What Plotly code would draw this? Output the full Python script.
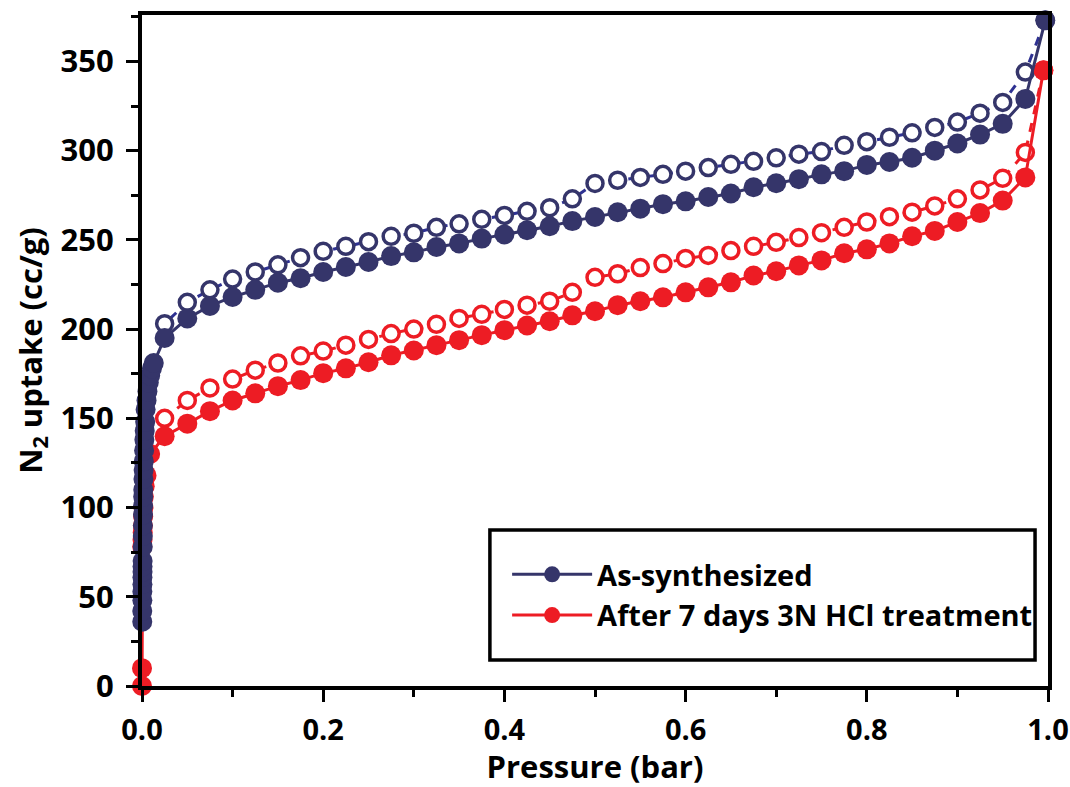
import plotly.graph_objects as go

# ---------------- data ----------------
# As-synthesized, adsorption branch (filled markers)
as_ads_p = [0.0003, 0.0003, 0.0004, 0.0004, 0.0005, 0.0005, 0.0006, 0.0006, 0.0007, 0.0008, 0.0009, 0.001,
            0.0011, 0.0012, 0.0013, 0.0014, 0.0016, 0.0018, 0.002, 0.0023, 0.0026, 0.003, 0.0035, 0.004,
            0.005, 0.006, 0.0075, 0.009, 0.011, 0.013,
            0.025, 0.05, 0.075, 0.1, 0.125, 0.15, 0.175, 0.2, 0.225, 0.25, 0.275, 0.3, 0.325, 0.35, 0.375,
            0.4, 0.425, 0.45, 0.475, 0.5, 0.525, 0.55, 0.575, 0.6, 0.625, 0.65, 0.675, 0.7, 0.725, 0.75,
            0.775, 0.8, 0.825, 0.85, 0.875, 0.9, 0.925, 0.95, 0.975, 0.997]
as_ads_v = [36, 42, 48, 53, 57, 61, 64, 67, 70, 78, 84, 90,
            96, 101, 106, 110, 116, 121, 126, 132, 138, 143, 148, 155,
            160, 165, 170, 174, 178, 181,
            195, 206, 213, 218, 222, 226, 228.5, 232, 234.8, 237.6, 240.9, 243, 246, 248, 250.7,
            253, 255.4, 257.6, 260.5, 262.8, 265.5, 267.5, 270, 271.6, 274, 276, 279.5, 281.7, 284, 286.7,
            288.5, 292, 293.6, 296, 300, 304, 309, 315, 329, 373]

# As-synthesized, desorption branch (open markers)
as_des_p = [0.997, 0.975, 0.95, 0.925, 0.9, 0.875, 0.85, 0.825, 0.8, 0.775, 0.75, 0.725, 0.7, 0.675, 0.65,
            0.625, 0.6, 0.575, 0.55, 0.525, 0.5, 0.475, 0.45, 0.425, 0.4, 0.375, 0.35, 0.325, 0.3, 0.275,
            0.25, 0.225, 0.2, 0.175, 0.15, 0.125, 0.1, 0.075, 0.05, 0.025]
as_des_v = [373, 344, 327, 321, 316, 313, 310, 307.5, 305, 303, 299.5, 298, 296, 294, 292.3,
            290.5, 288.5, 286.7, 285, 283.4, 281.6, 273, 268, 266, 263.7, 261.5, 259, 257, 253.7, 252,
            249, 246.4, 243.6, 240, 236, 232, 228, 222, 215, 203]

# After 7 days 3N HCl treatment, adsorption branch (filled markers)
hcl_ads_p = [0.0, 0.0, 0.0003, 0.0006, 0.0008, 0.001, 0.0013, 0.0016, 0.002, 0.003, 0.005, 0.009,
             0.025, 0.05, 0.075, 0.1, 0.125, 0.15, 0.175, 0.2, 0.225, 0.25, 0.275, 0.3, 0.325, 0.35, 0.375,
             0.4, 0.425, 0.45, 0.475, 0.5, 0.525, 0.55, 0.575, 0.6, 0.625, 0.65, 0.675, 0.7, 0.725, 0.75,
             0.775, 0.8, 0.825, 0.85, 0.875, 0.9, 0.925, 0.95, 0.975, 0.995]
hcl_ads_v = [0, 10, 78, 82, 86, 90, 95, 100, 106, 112, 118, 130,
             140, 147, 154, 160, 164, 168, 171.4, 175.3, 178, 181.4, 185.3, 188, 191, 193.8, 196.6,
             199.4, 202, 204.4, 207.7, 210, 213.4, 215.6, 217.8, 220.6, 223.4, 226.2, 230, 232.4, 235.7, 238.5,
             242.5, 244.7, 248, 252, 255, 260, 265, 272, 285, 345]

# After 7 days 3N HCl treatment, desorption branch (open markers)
hcl_des_p = [0.995, 0.975, 0.95, 0.925, 0.9, 0.875, 0.85, 0.825, 0.8, 0.775, 0.75, 0.725, 0.7, 0.675, 0.65,
             0.625, 0.6, 0.575, 0.55, 0.525, 0.5, 0.475, 0.45, 0.425, 0.4, 0.375, 0.35, 0.325, 0.3, 0.275,
             0.25, 0.225, 0.2, 0.175, 0.15, 0.125, 0.1, 0.075, 0.05, 0.025]
hcl_des_v = [345, 299, 284.5, 278, 273, 269, 265.5, 263, 260, 257, 254, 251.3, 248.6, 246.4, 244,
             241.3, 239.6, 236.7, 234.5, 231, 229, 220.6, 215.6, 213.4, 211, 208.3, 206, 202.7, 200, 197.5,
             194.2, 191, 187.7, 185, 181, 177, 172, 167, 160, 150]

# ---------------- style ----------------
BLUE = "#35356a"
BLUE_LINE = "#2e3192"
RED = "#ed1c24"
FONT = "Open Sans"

fig = go.Figure()
fig.add_trace(go.Scatter(x=hcl_des_p, y=hcl_des_v, mode="lines+markers", showlegend=False,
                         line=dict(color=RED, width=3, dash="dash"),
                         marker=dict(symbol="circle", size=16, color="white", line=dict(color=RED, width=3.5)),
                         cliponaxis=False))
fig.add_trace(go.Scatter(x=as_des_p, y=as_des_v, mode="lines+markers", showlegend=False,
                         line=dict(color=BLUE_LINE, width=3, dash="dash"),
                         marker=dict(symbol="circle", size=16, color="white", line=dict(color=BLUE, width=3.5)),
                         cliponaxis=False))
fig.add_trace(go.Scatter(x=hcl_ads_p, y=hcl_ads_v, mode="lines+markers", name="After 7 days 3N HCl treatment",
                         legendrank=2,
                         line=dict(color=RED, width=3),
                         marker=dict(symbol="circle", size=20, color=RED),
                         cliponaxis=False))
fig.add_trace(go.Scatter(x=as_ads_p, y=as_ads_v, mode="lines+markers", name="As-synthesized",
                         legendrank=1,
                         line=dict(color=BLUE, width=3),
                         marker=dict(symbol="circle", size=20, color=BLUE),
                         cliponaxis=False))

axis_common = dict(showline=True, linecolor="black", linewidth=4, mirror=True, ticks="outside",
                   tickwidth=3, ticklen=12, tickcolor="black", showgrid=False, zeroline=False,
                   automargin=False)

fig.update_xaxes(range=[0, 1.0], dtick=0.2, tickformat=".1f",
                 ticklabelstandoff=3, ticklabeloverflow="allow",
                 tickfont=dict(family=FONT, size=29, color="black", weight="bold"),
                 minor=dict(dtick=0.1, ticks="outside", ticklen=7, tickwidth=3, tickcolor="black"),
                 title=dict(text="Pressure (bar)", font=dict(family=FONT, size=31, color="black", weight="bold"),
                            standoff=4),
                 **axis_common)
fig.update_yaxes(range=[0, 376], dtick=50,
                 ticklabelstandoff=6,
                 tickfont=dict(family=FONT, size=31, color="black", weight="bold"),
                 minor=dict(dtick=25, ticks="outside", ticklen=7, tickwidth=3, tickcolor="black"),
                 title=dict(text="N<sub>2</sub> uptake (cc/g)",
                            font=dict(family=FONT, size=31, color="black", weight="bold"), standoff=10),
                 **axis_common)

# legend frame
fig.add_shape(type="rect", xref="paper", yref="paper", x0=0.384, x1=0.9857, y0=0.0387, y1=0.2325,
              line=dict(color="black", width=3.5), fillcolor="white", layer="above")

fig.update_layout(
    width=1070, height=787,
    margin=dict(l=142, r=22, t=15, b=101, autoexpand=False),
    plot_bgcolor="white", paper_bgcolor="white",
    legend=dict(x=0.403, y=0.1356, xanchor="left", yanchor="middle",
                borderwidth=0, bgcolor="rgba(0,0,0,0)",
                font=dict(family=FONT, size=29, color="black", weight="bold"),
                tracegroupgap=0, itemwidth=80, traceorder="normal"),
)

fig.write_html("out.html")
